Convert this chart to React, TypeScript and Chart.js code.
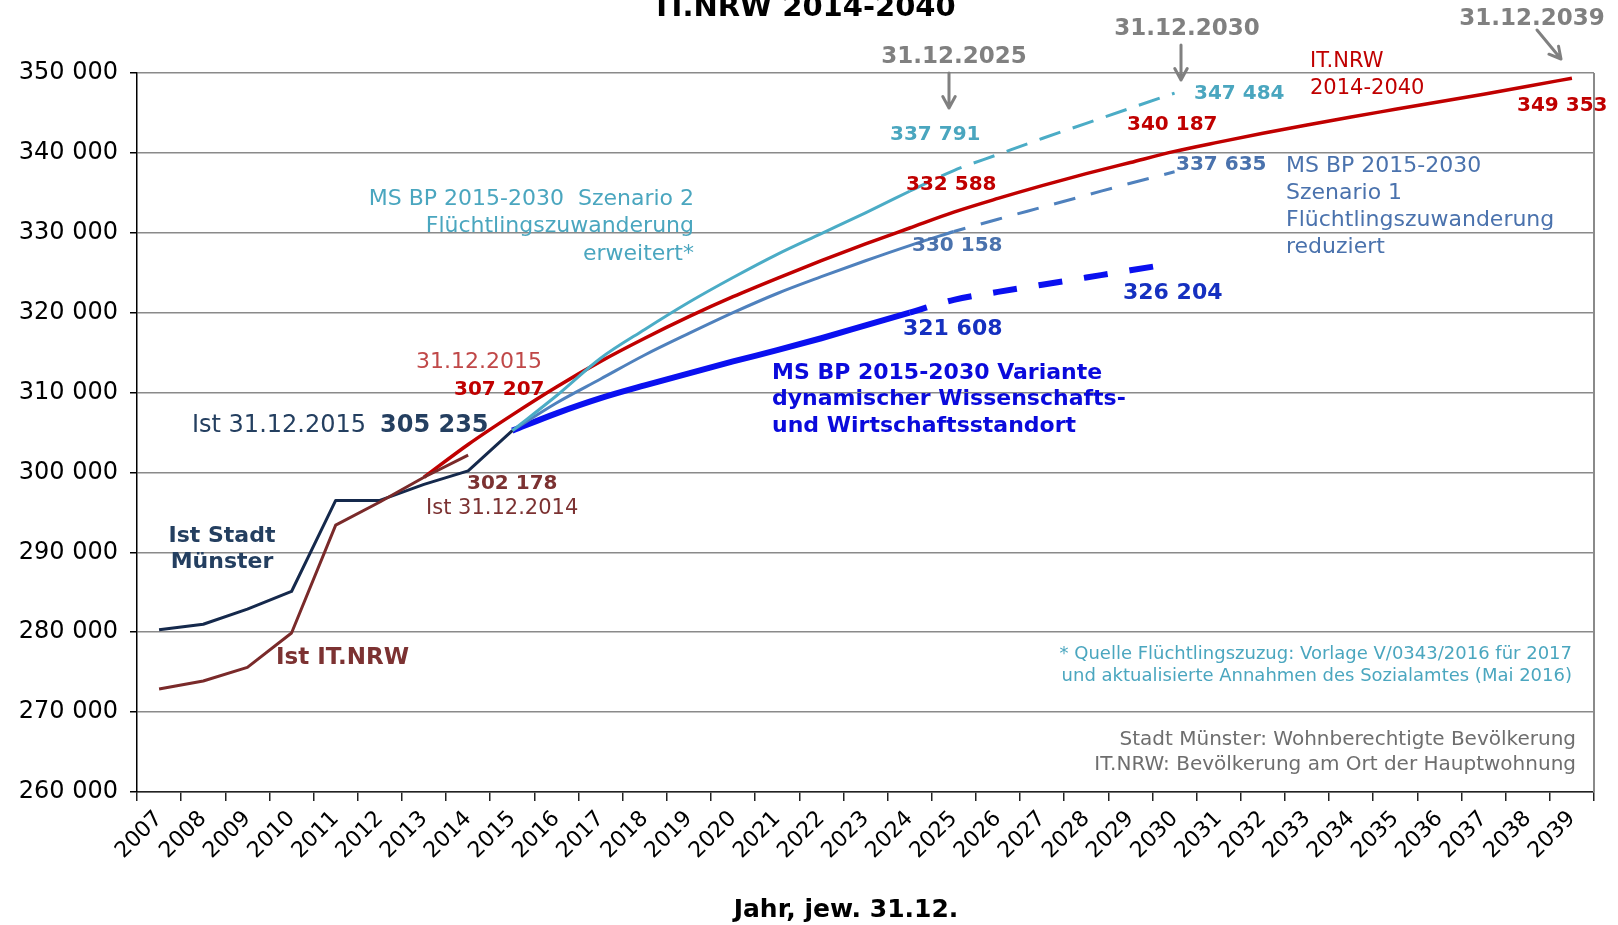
import React, { useEffect, useRef } from 'react';
import { Chart, registerables } from 'chart.js';

Chart.register(...registerables);

// ---------- data ----------
const years: string[] = [
  '2007', '2008', '2009', '2010', '2011', '2012', '2013', '2014', '2015', '2016', '2017',
  '2018', '2019', '2020', '2021', '2022', '2023', '2024', '2025', '2026', '2027', '2028',
  '2029', '2030', '2031', '2032', '2033', '2034', '2035', '2036', '2037', '2038', '2039',
];

const yMin = 260000;
const yMax = 350000;
const yStep = 10000;

// Ist Stadt Münster (wohnberechtigte Bevölkerung), from 2007
const istStadtStart = 2007;
const istStadtMuenster = [280300, 281000, 282900, 285100, 296500, 296500, 298500, 300200, 305235];

// Ist IT.NRW, from 2007
const istItNrwStart = 2007;
const istItNrw = [272900, 273900, 275600, 279900, 293400, 296300, 299400, 302178];

// IT.NRW projection 2014-2040, from 2013
const itNrwProjStart = 2013;
const itNrwProjection = [
  299400, 303500, 307207, 310700, 313900, 316800, 319500, 322000, 324300, 326500, 328600,
  330600, 332588, 334300, 335900, 337400, 338800, 340187, 341350, 342450, 343500, 344500,
  345450, 346400, 347350, 348350, 349353,
];

// MS BP Szenario 2 (Flüchtlingszuwanderung erweitert)
const sz2SolidStart = 2015;
const sz2Solid = [305235, 309600, 314300, 317900, 321300, 324400, 327300, 329900, 332500, 335200];
const sz2DashStart = 2024;
const sz2Dash = [335200, 337791, 339800, 341800, 343700, 345600, 347484];

// MS BP Szenario 1 (Flüchtlingszuwanderung reduziert)
const sz1SolidStart = 2015;
const sz1Solid = [305235, 308700, 311700, 314700, 317400, 320000, 322400, 324500, 326500, 328400, 330158];
const sz1DashStart = 2025;
const sz1Dash = [330158, 331700, 333200, 334700, 336200, 337635];

// MS BP Variante dynamischer Wissenschafts- und Wirtschaftsstandort
const varSolidStart = 2015;
const varSolid = [305235, 307400, 309300, 310900, 312400, 313900, 315300, 316800, 318400, 320000];
const varDashStart = 2024;
const varDash = [320000, 321608, 322600, 323500, 324400, 325300, 326204];

// ---------- helpers ----------
const FONT = 'DejaVu Sans';

function pad(start: number, values: number[]): (number | null)[] {
  return years.map((y) => {
    const idx = Number(y) - start;
    return idx >= 0 && idx < values.length ? values[idx] : null;
  });
}

function fmt(v: number): string {
  const s = String(Math.round(v));
  return s.replace(/\B(?=(\d{3})+(?!\d))/g, ' ');
}

const C = {
  navy: '#15294c',
  navyText: '#243f60',
  brown: '#7a2a2a',
  brownText: '#7c3232',
  red: '#c00000',
  redLight: '#c04848',
  cyan: '#4bacc6',
  cyanText: '#4aa6bf',
  steel: '#4f81bd',
  steelText: '#4a72ad',
  blue: '#0a10f0',
  blueText: '#1530c0',
  blueLabel: '#0a0adc',
  grey: '#808080',
};

function txt(ctx: CanvasRenderingContext2D, s: string, x: number, y: number, font: string, color: string, align: CanvasTextAlign = 'left') {
  ctx.font = font;
  ctx.fillStyle = color;
  ctx.textAlign = align;
  ctx.textBaseline = 'middle';
  ctx.fillText(s, x, y);
}

function arrow(ctx: CanvasRenderingContext2D, x1: number, y1: number, x2: number, y2: number, color: string) {
  ctx.save();
  ctx.strokeStyle = color;
  ctx.lineWidth = 3;
  ctx.lineCap = 'round';
  ctx.beginPath();
  ctx.moveTo(x1, y1);
  ctx.lineTo(x2, y2);
  const a = Math.atan2(y2 - y1, x2 - x1);
  const h = 13;
  ctx.moveTo(x2, y2);
  ctx.lineTo(x2 - h * Math.cos(a - 0.5), y2 - h * Math.sin(a - 0.5));
  ctx.moveTo(x2, y2);
  ctx.lineTo(x2 - h * Math.cos(a + 0.5), y2 - h * Math.sin(a + 0.5));
  ctx.stroke();
  ctx.restore();
}

const annotations = {
  id: 'annotations',
  afterDraw(chart: any) {
    const ctx: CanvasRenderingContext2D = chart.ctx;
    const { chartArea } = chart;
    ctx.save();
    // right border of plot
    ctx.strokeStyle = '#8a8a8a';
    ctx.lineWidth = 2;
    ctx.beginPath();
    ctx.moveTo(chartArea.right, chartArea.top);
    ctx.lineTo(chartArea.right, chartArea.bottom);
    ctx.stroke();

    const b = (n: number) => `bold ${n}px "${FONT}"`;
    const r = (n: number) => `${n}px "${FONT}"`;

    // title (cut at top)
    txt(ctx, 'IT.NRW 2014-2040', 806, 8, b(29), '#000', 'center');

    // date markers
    txt(ctx, '31.12.2025', 954, 57, b(23), C.grey, 'center');
    arrow(ctx, 949, 73, 949, 108, C.grey);
    txt(ctx, '31.12.2030', 1187, 29, b(23), C.grey, 'center');
    arrow(ctx, 1181, 45, 1181, 80, C.grey);
    txt(ctx, '31.12.2039', 1532, 19, b(23), C.grey, 'center');
    arrow(ctx, 1537, 30, 1561, 59, C.grey);

    // IT.NRW projection labels
    txt(ctx, 'IT.NRW', 1310, 62, r(21), C.red);
    txt(ctx, '2014-2040', 1310, 89, r(21), C.red);
    txt(ctx, '349 353', 1517, 106, b(20), C.red);
    txt(ctx, '340 187', 1127, 125, b(20), C.red);
    txt(ctx, '332 588', 906, 185, b(20), C.red);

    // Szenario 2
    txt(ctx, '347 484', 1194, 94, b(20), C.cyanText);
    txt(ctx, '337 791', 890, 135, b(20), C.cyanText);
    txt(ctx, 'MS BP 2015-2030  Szenario 2', 694, 199, r(22), C.cyanText, 'right');
    txt(ctx, 'Flüchtlingszuwanderung', 694, 226, r(22), C.cyanText, 'right');
    txt(ctx, 'erweitert*', 694, 254, r(22), C.cyanText, 'right');

    // Szenario 1
    txt(ctx, '337 635', 1176, 165, b(20), C.steelText);
    txt(ctx, '330 158', 912, 246, b(20), C.steelText);
    txt(ctx, 'MS BP 2015-2030', 1286, 166, r(22), C.steelText);
    txt(ctx, 'Szenario 1', 1286, 193, r(22), C.steelText);
    txt(ctx, 'Flüchtlingszuwanderung', 1286, 220, r(22), C.steelText);
    txt(ctx, 'reduziert', 1286, 247, r(22), C.steelText);

    // Variante
    txt(ctx, '326 204', 1123, 293, b(22), C.blueText);
    txt(ctx, '321 608', 903, 329, b(22), C.blueText);
    txt(ctx, 'MS BP 2015-2030 Variante', 772, 373, b(22), C.blueLabel);
    txt(ctx, 'dynamischer Wissenschafts-', 772, 399, b(22), C.blueLabel);
    txt(ctx, 'und Wirtschaftsstandort', 772, 426, b(22), C.blueLabel);

    // 2015 / 2014 labels
    txt(ctx, '31.12.2015', 416, 362, r(22), C.redLight);
    txt(ctx, '307 207', 454, 390, b(20), C.red);
    txt(ctx, 'Ist 31.12.2015', 366, 426, r(24), C.navyText, 'right');
    txt(ctx, '305 235', 380, 426, b(24), C.navyText);
    txt(ctx, '302 178', 467, 484, b(20), C.brownText);
    txt(ctx, 'Ist 31.12.2014', 426, 509, r(21), C.brownText);

    // series names
    txt(ctx, 'Ist Stadt', 222, 536, b(22), C.navyText, 'center');
    txt(ctx, 'Münster', 222, 562, b(22), C.navyText, 'center');
    txt(ctx, 'Ist IT.NRW', 276, 658, b(23), C.brownText);

    // notes
    txt(ctx, '* Quelle Flüchtlingszuzug: Vorlage V/0343/2016 für 2017', 1572, 654, r(18), C.cyanText, 'right');
    txt(ctx, 'und aktualisierte Annahmen des Sozialamtes (Mai 2016)', 1572, 676, r(18), C.cyanText, 'right');
    txt(ctx, 'Stadt Münster: Wohnberechtigte Bevölkerung', 1576, 740, r(20), '#6e6e6e', 'right');
    txt(ctx, 'IT.NRW: Bevölkerung am Ort der Hauptwohnung', 1576, 765, r(20), '#6e6e6e', 'right');

    // axis title
    txt(ctx, 'Jahr, jew. 31.12.', 846, 910, b(25), '#000', 'center');
    ctx.restore();
  },
};

function line(data: (number | null)[], color: string, width: number, smooth: boolean, dash?: number[], dashOffset = 0) {
  return {
    data,
    borderColor: color,
    backgroundColor: color,
    borderWidth: width,
    borderDash: dash || [],
    borderDashOffset: dashOffset,
    pointRadius: 0,
    fill: false,
    spanGaps: false,
    tension: 0,
    cubicInterpolationMode: smooth ? ('monotone' as const) : ('default' as const),
    borderCapStyle: 'butt' as const,
    borderJoinStyle: 'round' as const,
  };
}

export default function App() {
  const ref = useRef<HTMLCanvasElement | null>(null);

  useEffect(() => {
    document.body.style.margin = '0';
    const canvas = ref.current;
    if (!canvas) return;
    const chart = new Chart(canvas, {
      type: 'line',
      data: {
        labels: years,
        datasets: [
          line(pad(istItNrwStart, istItNrw), C.brown, 3, false),
          line(pad(istStadtStart, istStadtMuenster), C.navy, 3, false),
          line(pad(sz2SolidStart, sz2Solid), C.cyan, 3, true),
          line(pad(sz2DashStart, sz2Dash), C.cyan, 3, true, [22, 13], 0),
          line(pad(itNrwProjStart, itNrwProjection), C.red, 3.5, true),
          line(pad(sz1SolidStart, sz1Solid), C.steel, 3, true),
          line(pad(sz1DashStart, sz1Dash), C.steel, 3, true, [22, 16], 10),
          line(pad(varSolidStart, varSolid), C.blue, 6, true),
          line(pad(varDashStart, varDash), C.blue, 6, true, [24, 22], 6),
        ] as any,
      },
      options: {
        animation: false,
        responsive: false,
        devicePixelRatio: 1,
        layout: { padding: { top: 73, right: 24, left: 0, bottom: 0 } },
        plugins: {
          legend: { display: false },
          tooltip: { enabled: false },
          title: { display: false },
        },
        scales: {
          x: {
            type: 'category',
            offset: true,
            grid: {
              offset: true,
              drawOnChartArea: false,
              drawTicks: true,
              tickLength: 9,
              color: '#222',
              lineWidth: 1.5,
            },
            border: { color: '#222', width: 1.5 },
            ticks: {
              autoSkip: false,
              minRotation: 45,
              maxRotation: 45,
              padding: 5,
              color: '#000',
              font: { family: FONT, size: 22 },
            },
            afterFit: (s: any) => {
              s.height = 133;
            },
          },
          y: {
            min: yMin,
            max: yMax,
            ticks: {
              stepSize: yStep,
              padding: 12,
              color: '#000',
              font: { family: FONT, size: 24 },
              callback: (v: any) => fmt(Number(v)),
            },
            grid: {
              color: '#8a8a8a',
              lineWidth: 1.5,
              tickLength: 7,
              tickColor: '#000',
            },
            border: { color: '#000', width: 1.5 },
            afterFit: (s: any) => {
              s.width = 137;
            },
          },
        },
      } as any,
      plugins: [annotations],
    });
    return () => chart.destroy();
  }, []);

  return (
    <div style={{ width: 1618, height: 925, background: '#fff' }}>
      <canvas ref={ref} width={1618} height={925} style={{ display: 'block', width: 1618, height: 925 }} />
    </div>
  );
}
